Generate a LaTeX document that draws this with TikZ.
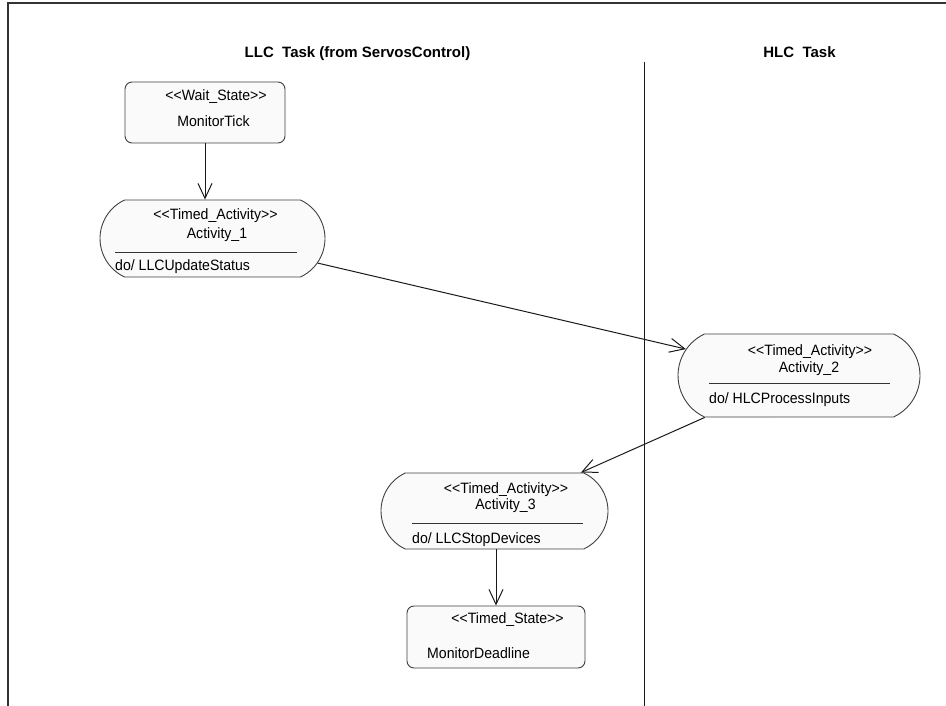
\documentclass[tikz,border=0pt]{standalone}
\usepackage{fontspec}
\newfontfamily\umlfont{Liberation Sans}[FakeStretch=0.94]
\newfontfamily\headfont{Liberation Sans}
\usetikzlibrary{arrows.meta,shapes.misc}

\begin{document}
\begin{tikzpicture}[x=1pt,y=-1pt,
  frame/.style={line width=2.2pt,draw=black!80},
  lane/.style={line width=0.8pt,draw=black!90},
  statebox/.style={draw=black!75,fill=black!2,rounded corners=7pt,line width=0.9pt,inner sep=0pt},
  actbox/.style={draw=black!75,fill=black!2,rounded rectangle,rounded rectangle arc length=130,line width=0.9pt,inner sep=0pt},
  txt/.style={font=\umlfont\fontsize{15}{18}\selectfont,inner sep=0pt,anchor=base},
  dotxt/.style={txt,anchor=base west},
  ttl/.style={font=\headfont\bfseries\fontsize{15}{18}\selectfont,inner sep=0pt,anchor=base},
  flow/.style={line width=1pt,draw=black!90,-{Straight Barb[length=15pt,width=14pt,line width=1pt]}},
  sepline/.style={line width=0.8pt,draw=black!80}]

\useasboundingbox (0,0) rectangle (946,706);

% outer frame and swimlane divider
\draw[frame] (8,706) -- (8,3) -- (946,3);
\draw[lane] (644,62) -- (644,706);

% swimlane headings
\node[ttl] (llctitle) at (357.5,58) {LLC\ \ Task (from ServosControl)};
\node[ttl] (hlctitle) at (799.5,58) {HLC\ \ Task};

% states and activities
\node[statebox,minimum width=160pt,minimum height=61pt] (tick) at (205,112.5) {};
\node[actbox,minimum width=225pt,minimum height=77pt] (act1) at (212.5,238.5) {};
\node[actbox,minimum width=242pt,minimum height=83pt] (act2) at (799,375.5) {};
\node[actbox,minimum width=227pt,minimum height=76pt] (act3) at (494.5,511) {};
\node[statebox,minimum width=178pt,minimum height=62pt] (deadline) at (496,637) {};

% MonitorTick
\node[txt] (tickst) at (216,101) {<<Wait\_State>>};
\node[txt] (tickname) at (213.5,127) {MonitorTick};

% Activity_1
\node[txt] (act1st) at (215.5,220) {<<Timed\_Activity>>};
\node[txt] (act1name) at (217,238) {Activity\_1};
\draw[sepline] (115,252) -- (297,252);
\node[dotxt] (act1do) at (115,270) {do/ LLCUpdateStatus};

% Activity_2
\node[txt] (act2st) at (810,355) {<<Timed\_Activity>>};
\node[txt] (act2name) at (809,372) {Activity\_2};
\draw[sepline] (709,383) -- (890,383);
\node[dotxt] (act2do) at (709,403) {do/ HLCProcessInputs};

% Activity_3
\node[txt] (act3st) at (506,493) {<<Timed\_Activity>>};
\node[txt] (act3name) at (505.5,509) {Activity\_3};
\draw[sepline] (412,523) -- (583,523);
\node[dotxt] (act3do) at (412,543) {do/ LLCStopDevices};

% MonitorDeadline
\node[txt] (deadst) at (507.5,623) {<<Timed\_State>>};
\node[dotxt] (deadname) at (427,658) {MonitorDeadline};

% transitions
\draw[flow] (tick.south) -- (tick.south |- act1.north);
\draw[flow] (act1) -- (act2);
\draw[flow] (act2) -- (act3);
\draw[flow] (deadline.north |- act3.south) -- (deadline.north);
\end{tikzpicture}
\end{document}
